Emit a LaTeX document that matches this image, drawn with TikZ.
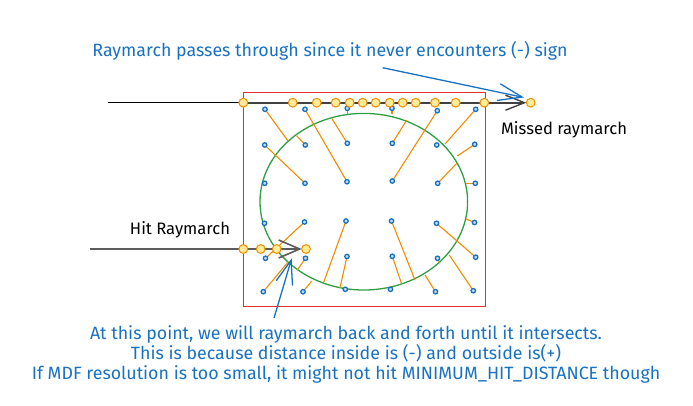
\documentclass[tikz,border=0pt]{standalone}
\usepackage{fontspec}
\setmainfont{Fira Sans}
\usepackage{tikz}
\usetikzlibrary{calc, arrows.meta, positioning}

\definecolor{boxred}{HTML}{E03131}
\definecolor{sdfgreen}{HTML}{2F9E44}
\definecolor{distorange}{HTML}{F08C00}
\definecolor{stepfill}{HTML}{FFEC99}
\definecolor{noteblue}{HTML}{1971C2}
\definecolor{raygray}{HTML}{5C5C5C}

\tikzset{
  sample/.style={circle, draw=noteblue, fill=noteblue!25, line width=1.3pt, inner sep=0pt, minimum size=4.4pt},
  marchstep/.style={circle, draw=distorange, fill=stepfill, line width=1pt, inner sep=0pt, minimum size=8.8pt},
  dist/.style={distorange, line width=1.1pt},
  note/.style={text=noteblue, font=\fontsize{17.8}{20}\selectfont, align=center},
  caption/.style={text=black, font=\fontsize{16.6}{20}\selectfont},
  pointer/.style={noteblue, line width=1.3pt, -{Straight Barb[length=24pt, width=17pt, line width=1.3pt]}},
}

\begin{document}
\begin{tikzpicture}[x=1pt, y=-1pt]
\useasboundingbox (0,0) rectangle (693,405);

% bounding box of the field
\draw[boxred, line width=1pt] (243.3,92.3) rectangle (485,306);

% the shape itself
\draw[sdfgreen, line width=1.3pt] (363.8,201.7) ellipse [x radius=103.8, y radius=88.3];

% sample points of the distance field
\foreach \n/\x/\y in {a1/265/109.3, a2/305/109.3, a3/347.3/108.3, a4/392/108.3, a5/437.3/110.7, a6/475.7/109.3,
  b1/264.7/145, b2/305.3/145, b3/347.3/143.3, b4/392.3/143.3, b5/436.7/145, b6/474.7/144.3,
  c1/264.7/183.3, c2/305/183.3, c3/347/181.7, c4/392.3/181, c5/437.7/183.3, c6/475.3/183.3,
  d1/264.5/223.3, d2/304.5/222, d3/346/221, d4/391.5/221, d5/436.5/223.3, d6/474.5/222.5,
  e1/265.5/258.3, e2/305.5/258.3, e3/347/256.5, e4/392.3/256.3, e5/437.5/258.3, e6/475.7/257.2,
  f1/263.3/291.7, f2/303/291.7, f3/345.3/289.3, f4/390.5/289.3, f5/435.5/291.7, f6/473.3/290.7}
  \coordinate (\n) at (\x,\y);

% distances to the surface
\foreach \n/\x/\y in {a1/288/141, a3/347.3/113.5, a4/392/113.5, a6/445/144,
  b2/296.7/135.7, b3/331.7/118.3, b4/406.7/120, b6/457.3/156,
  c1/261.5/184, c5/456.7/163.3, c6/466/183.3,
  d1/262/223, d3/323.3/283.3, d4/415/280, d6/466/219,
  e2/297.3/270, e3/340/287.7, e4/401.7/284.3, e5/440/263.3,
  f1/288.3/261.7, f2/311.7/281, f4/390.7/286, f5/425/275, f6/449.3/255}
{
  \coordinate (s\n) at (\x,\y);
  \draw[dist] (\n) -- (s\n);
}
\foreach \p/\q in {a2/c3, b1/c2, c4/a5, d2/e1, d5/e6}
  \draw[dist] (\p) -- (\q);

\foreach \n in {a1,a2,a3,a4,a5,a6,b1,b2,b3,b4,b5,b6,c1,c2,c3,c4,c5,c6,d1,d2,d3,d4,d5,d6,e1,e2,e3,e4,e5,e6,f1,f2,f3,f4,f5,f6}
  \node[sample] at (\n) {};

% missed ray
\coordinate (missstart) at (108,102.7);
\foreach \i/\x in {1/243.3, 2/292.7, 3/316.7, 4/335.7, 5/349.7, 6/362.7, 7/375.7, 8/389.7, 9/402.7, 10/415.7, 11/435, 12/455.7, 13/484.3, 14/530.7}
  \coordinate (m\i) at (\x,102.7);
\draw[black, line width=0.9pt] (missstart) -- (m1);
\draw[raygray!70!black, line width=2pt, -{Straight Barb[length=19pt, width=15pt, line width=1.4pt]}] (m1) -- ($(m14)+(-4.3,0)$);
\foreach \i in {1,...,14}
  \node[marchstep] (mstep\i) at (m\i) {};

% hit ray
\coordinate (hitstart) at (90,249);
\foreach \i/\x in {1/243.3, 2/260.7, 3/276.7, 4/306}
  \coordinate (h\i) at (\x,249);
\draw[raygray, line width=2.4pt, -{Straight Barb[length=21pt, width=18pt, line width=1.6pt]}] (hitstart) -- ($(h4)+(-4.3,0)$);
\foreach \i in {1,...,4}
  \node[marchstep] (hstep\i) at (h\i) {};

% labels
\node[caption] (missed) at (564,130) {Missed raymarch};
\node[caption] (hit) at (180,230) {Hit Raymarch};

\node[note] (topnote) at (330,51) {Raymarch passes through since it never encounters (-) sign};
\coordinate (topnotetail) at (382.6,67.7);
\coordinate (topnotetip) at (524,97.5);
\draw[pointer] (topnotetail) -- (topnotetip);

\node[note] (hitnote) at (346,354) {At this point, we will raymarch back and forth until it intersects.\\
This is because distance inside is (-) and outside is(+)\\
If MDF resolution is too small, it might not hit MINIMUM\_HIT\_DISTANCE though};
\coordinate (hitnotetail) at (274,318);
\coordinate (hitnotetip) at (291.7,258.3);
\draw[pointer] (hitnotetail) -- (hitnotetip);

\end{tikzpicture}
\end{document}
